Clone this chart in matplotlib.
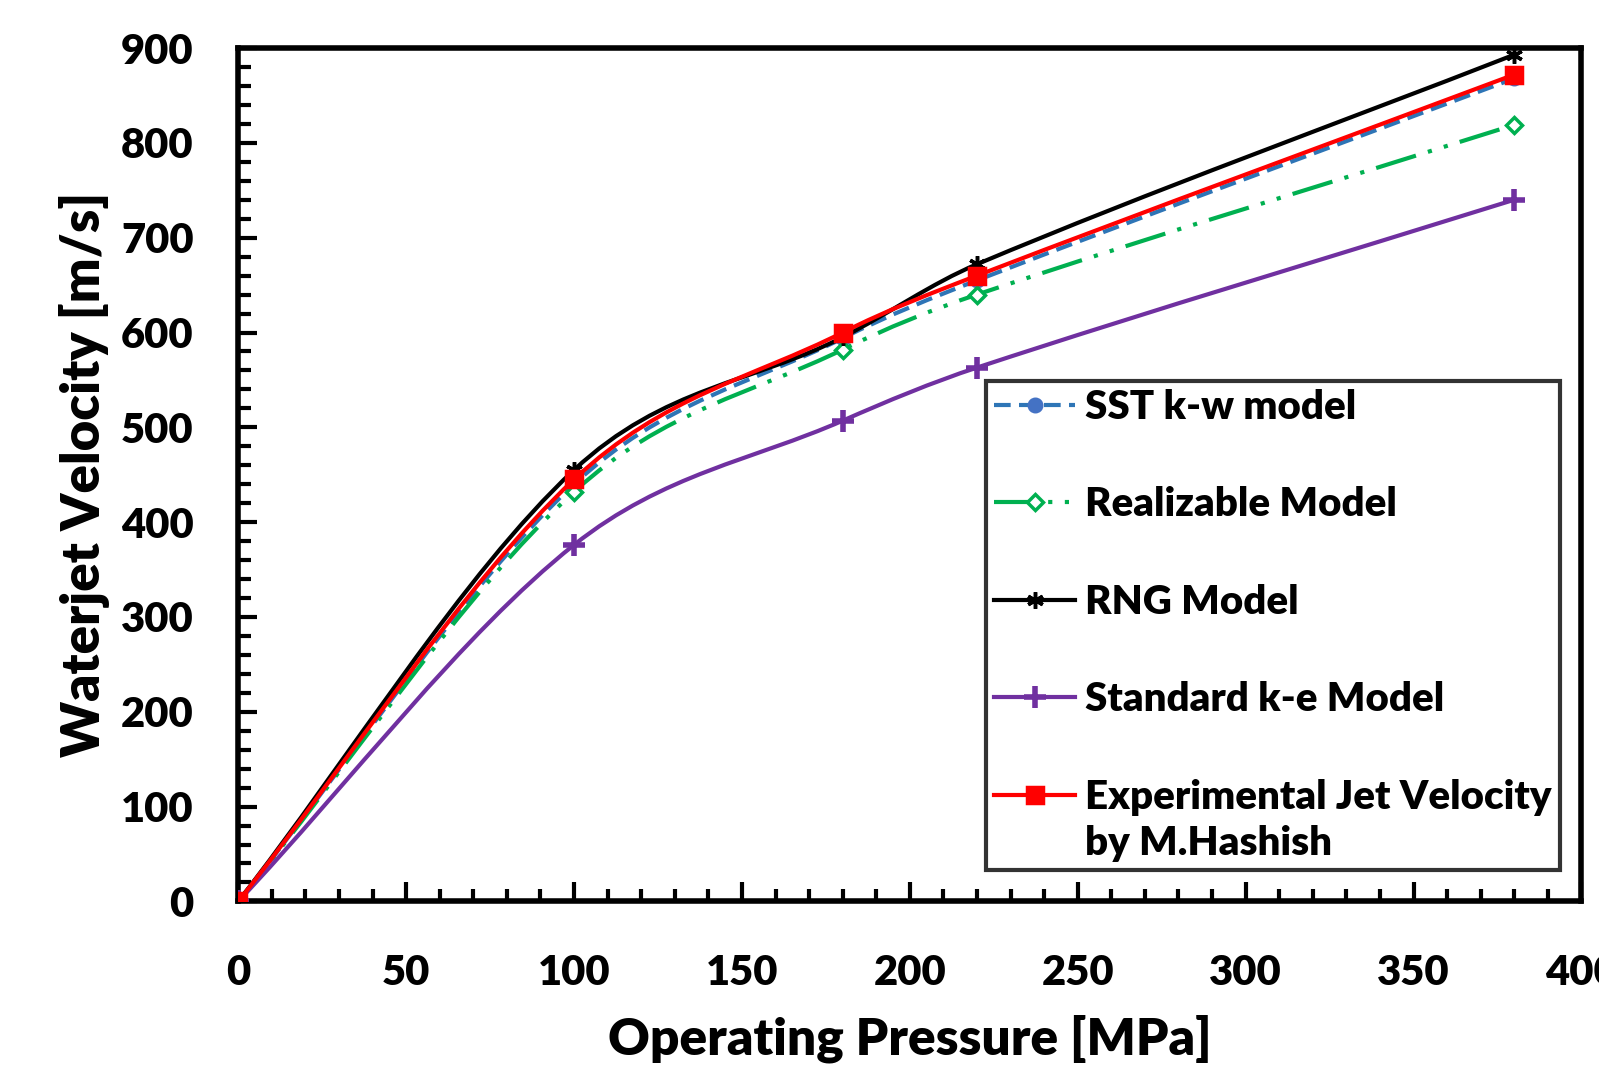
import matplotlib
matplotlib.use("Agg")
import matplotlib.pyplot as plt
import numpy as np
from matplotlib.path import Path
from matplotlib.patches import PathPatch
from matplotlib.lines import Line2D
from matplotlib.legend_handler import HandlerLine2D
from matplotlib.ticker import MultipleLocator

# pressures (MPa) and jet velocities (m/s)
pressure = [0, 100, 180, 220, 380]
sst_kw = [0, 440, 594, 655, 868]
realizable = [0, 432, 582, 640, 819]
rng = [0, 455, 595, 672, 893]
standard_ke = [0, 376, 507, 563, 740]
experimental = [0, 445, 600, 660, 872]

labels = ["SST k-w model", "Realizable Model", "RNG Model",
          "Standard k-e Model", "Experimental Jet Velocity\nby M.Hashish"]

plt.rcParams['font.family'] = ['Lato', 'DejaVu Sans']
plt.rcParams['font.weight'] = 'heavy'


def smooth_path(x, y):
    # smoothed line like Excel: cubic bezier through the points
    pts = np.column_stack([x, y]).astype(float)
    n = len(pts)
    verts = [pts[0]]
    codes = [Path.MOVETO]
    for i in range(n - 1):
        p0 = pts[i - 1] if i > 0 else pts[i]
        p1 = pts[i]
        p2 = pts[i + 1]
        p3 = pts[i + 2] if i + 2 < n else pts[i + 1]
        d = p2[0] - p1[0]
        t1 = (p2 - p0) / max(p2[0] - p0[0], 1e-9)
        t2 = (p3 - p1) / max(p3[0] - p1[0], 1e-9)
        c1 = p1 + t1 * d / 3.0
        c2 = p2 - t2 * d / 3.0
        verts += [c1, c2, p2]
        codes += [Path.CURVE4] * 3
    return Path(verts, codes)


class TopLineHandler(HandlerLine2D):
    # put the handle level with the first line of a two-line label
    def __init__(self, shift, **kw):
        super().__init__(**kw)
        self.shift = shift

    def create_artists(self, legend, orig_handle, xdescent, ydescent,
                       width, height, fontsize, trans):
        arts = super().create_artists(legend, orig_handle, xdescent, ydescent,
                                      width, height, fontsize, trans)
        for a in arts:
            a.set_ydata(np.asarray(a.get_ydata(), dtype=float) + self.shift)
        return arts


fig = plt.figure(figsize=(15.99, 10.68), dpi=100)
ax = fig.add_axes([0.149, 0.156, 0.84, 0.799])

series = [
    (sst_kw, '#2E75B6', (0, (4, 2)), 'o', '#4472C4', '#4472C4', 9),
    (realizable, '#00B050', (0, (10, 3, 1, 3, 1, 3)), 'D', 'white', '#00B050', 8),
    (rng, 'black', '-', (6, 2, 0), 'black', 'black', 12),
    (standard_ke, '#7030A0', '-', 'P', '#7030A0', '#7030A0', 0),
    (experimental, '#FF0000', '-', 's', '#FF0000', '#FF0000', 12),
]

handles = []
for (vals, col, ls, mk, mfc, mec, ms), lab in zip(series, labels):
    patch = PathPatch(smooth_path(pressure, vals), fill=False, edgecolor=col,
                      linewidth=3, linestyle=ls, zorder=3)
    ax.add_patch(patch)
    if mk == 'P':
        ax.plot(pressure, vals, linestyle='none', marker='+', ms=16,
                mew=4, color=col, zorder=4)
        h = Line2D([], [], color=col, lw=3, ls=ls, marker='+', ms=16, mew=4)
    else:
        ax.plot(pressure, vals, linestyle='none', marker=mk, ms=ms,
                mfc=mfc, mec=mec, mew=2.5, zorder=4)
        h = Line2D([], [], color=col, lw=3, ls=ls, marker=mk, ms=ms,
                   mfc=mfc, mec=mec, mew=2.5)
    handles.append(h)

ax.set_xlim(0, 400)
ax.set_ylim(0, 900)
ax.xaxis.set_major_locator(MultipleLocator(50))
ax.xaxis.set_minor_locator(MultipleLocator(10))
ax.yaxis.set_major_locator(MultipleLocator(100))
ax.yaxis.set_minor_locator(MultipleLocator(20))
ax.tick_params(which='major', direction='in', length=14, width=3,
               labelsize=30, top=False, right=False)
ax.tick_params(which='minor', direction='in', length=9, width=3,
               top=False, right=False)
ax.tick_params(axis='x', pad=38)
ax.tick_params(axis='y', pad=32)
for lab in ax.get_xticklabels() + ax.get_yticklabels():
    lab.set_fontweight('heavy')
for s in ax.spines.values():
    s.set_linewidth(4)

ax.set_xlabel('Operating Pressure [MPa]', fontsize=37, fontweight='heavy',
              labelpad=16)
ax.set_ylabel('Waterjet Velocity [m/s]', fontsize=38, fontweight='heavy',
              labelpad=8)

leg_fs = 29
line_sp = 1.3
leg = ax.legend(handles, labels, loc='upper left',
                bbox_to_anchor=(0.557, 0.61), fontsize=leg_fs, frameon=True,
                fancybox=False, edgecolor='black', handlelength=2.0,
                handletextpad=0.25, labelspacing=1.5, borderpad=0.2,
                borderaxespad=0,
                handler_map={handles[4]: TopLineHandler(leg_fs * line_sp / 2)})
leg.get_frame().set_linewidth(3)
for t in leg.get_texts():
    t.set_fontweight('heavy')
    t.set_linespacing(line_sp)

fig.savefig('out.png', dpi=100)
